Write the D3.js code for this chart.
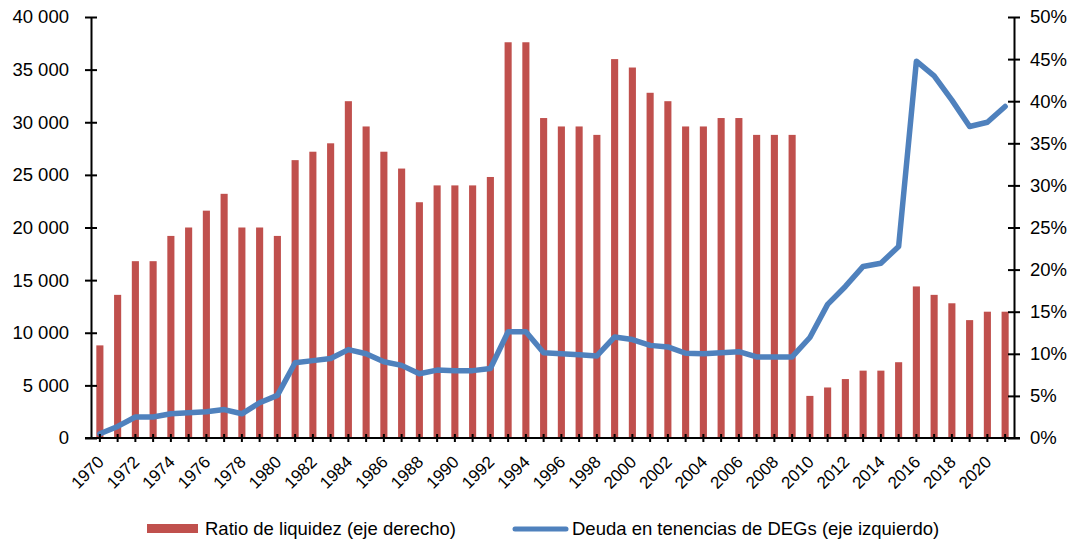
<!DOCTYPE html>
<html>
<head>
<meta charset="utf-8">
<script src="https://cdn.jsdelivr.net/npm/d3@7"></script>
<style>
  html, body { margin: 0; padding: 0; background: #fff; }
  svg { display: block; font-family: "Liberation Sans", Arial, sans-serif; }
</style>
</head>
<body>
<svg id="chart" width="1073" height="540"></svg>
<script>
// ---- data ----
const years = d3.range(1970, 2022).map(String);
// Ratio de liquidez (eje derecho), %
const ratioValues = [11, 17, 21, 21, 24, 25, 27, 29, 25, 25,
                     24, 33, 34, 35, 40, 37, 34, 32, 28, 30,
                     30, 30, 31, 47, 47, 38, 37, 37, 36, 45,
                     44, 41, 40, 37, 37, 38, 38, 36, 36, 36,
                     5, 6, 7, 8, 8, 9, 18, 17, 16, 14,
                     15, 15];
// Deuda en tenencias de DEGs (eje izquierdo)
const debtValues = [400, 1100, 2000, 2000, 2300, 2400, 2500, 2700, 2300, 3350,
                    4050, 7150, 7350, 7550, 8400, 8000, 7250, 6900, 6100, 6450,
                    6400, 6400, 6600, 10100, 10100, 8100, 8000, 7900, 7800, 9600,
                    9350, 8800, 8650, 8050, 8000, 8100, 8200, 7700, 7700, 7700,
                    9550, 12700, 14400, 16300, 16600, 18200, 35800, 34400, 32100, 29600,
                    30000, 31500];
const leftTicks = [0, 5000, 10000, 15000, 20000, 25000, 30000, 35000, 40000];
const rightTicks = [0, 5, 10, 15, 20, 25, 30, 35, 40, 45, 50];
const xLabelYears = years.filter((y, i) => i % 2 === 0);
const seriesNames = ["Ratio de liquidez (eje derecho)", "Deuda en tenencias de DEGs (eje izquierdo)"];
const barColor = "#C0504D";
const lineColor = "#4F81BD";

// ---- layout ----
const svg = d3.select("#chart");
const x0 = 91, x1 = 1014, yTop = 17, yBot = 438;

const x = d3.scaleBand().domain(years).range([x0, x1]).paddingInner(0.6).paddingOuter(0.3);
const center = d => x(d) + x.bandwidth() / 2;
const yL = d3.scaleLinear().domain([0, 40000]).range([yBot, yTop]);
const yR = d3.scaleLinear().domain([0, 50]).range([yBot, yTop]);

const fmtThousands = v => d3.format(",")(v).replace(/,/g, " ");

// bars
svg.append("g").selectAll("rect").data(years).join("rect")
  .attr("x", d => x(d))
  .attr("width", x.bandwidth())
  .attr("y", (d, i) => yR(ratioValues[i]))
  .attr("height", (d, i) => yBot - yR(ratioValues[i]))
  .attr("fill", barColor);

// line
const line = d3.line().x((d, i) => center(years[i])).y(d => yL(d));
svg.append("path").datum(debtValues)
  .attr("d", line)
  .attr("fill", "none")
  .attr("stroke", lineColor)
  .attr("stroke-width", 5.5)
  .attr("stroke-linejoin", "round")
  .attr("stroke-linecap", "round");

// left axis
const gL = svg.append("g").attr("transform", `translate(${x0},0)`)
  .call(d3.axisLeft(yL).tickValues(leftTicks).tickFormat(fmtThousands).tickSizeInner(6).tickSizeOuter(0).tickPadding(16));
gL.selectAll(".tick line").attr("x2", 6).attr("x1", -6);
// right axis
const gR = svg.append("g").attr("transform", `translate(${x1},0)`)
  .call(d3.axisRight(yR).tickValues(rightTicks).tickFormat(d => d + "%").tickSizeInner(6).tickSizeOuter(0).tickPadding(10));
gR.selectAll(".tick line").attr("x1", -6).attr("x2", 6);

// bottom axis
const gB = svg.append("g").attr("transform", `translate(0,${yBot})`)
  .call(d3.axisBottom(x).tickValues(years).tickSizeInner(4).tickSizeOuter(0).tickFormat(""));
gB.selectAll(".tick line").attr("y1", -4).attr("y2", 4);
gB.select(".domain").attr("d", `M${x0 - 6},0H${x1 + 6}`);
gB.selectAll(".tick").filter(d => xLabelYears.includes(d))
  .append("text")
  .attr("fill", "#000")
  .attr("text-anchor", "end")
  .attr("transform", "translate(5,25) rotate(-45)")
  .attr("font-size", 17)
  .text(d => d);

[gL, gR, gB].forEach(g => {
  g.attr("font-size", null).attr("font-family", null);
  g.selectAll(".domain").attr("stroke", "#000").attr("stroke-width", 2);
  g.selectAll(".tick line").attr("stroke", "#000").attr("stroke-width", 2);
});
[gL, gR].forEach(g => g.selectAll(".tick text").attr("fill", "#000").attr("font-size", 18.5));

// legend
const lg = svg.append("g");
lg.append("rect").attr("x", 147).attr("y", 524).attr("width", 51).attr("height", 9).attr("fill", barColor);
lg.append("text").attr("x", 205).attr("y", 535).attr("font-size", 18.5).attr("fill", "#000").text(seriesNames[0]);
lg.append("line").attr("x1", 515).attr("x2", 566).attr("y1", 529).attr("y2", 529)
  .attr("stroke", lineColor).attr("stroke-width", 5).attr("stroke-linecap", "round");
lg.append("text").attr("x", 572).attr("y", 535).attr("font-size", 18.5).attr("fill", "#000").text(seriesNames[1]);
</script>
</body>
</html>
